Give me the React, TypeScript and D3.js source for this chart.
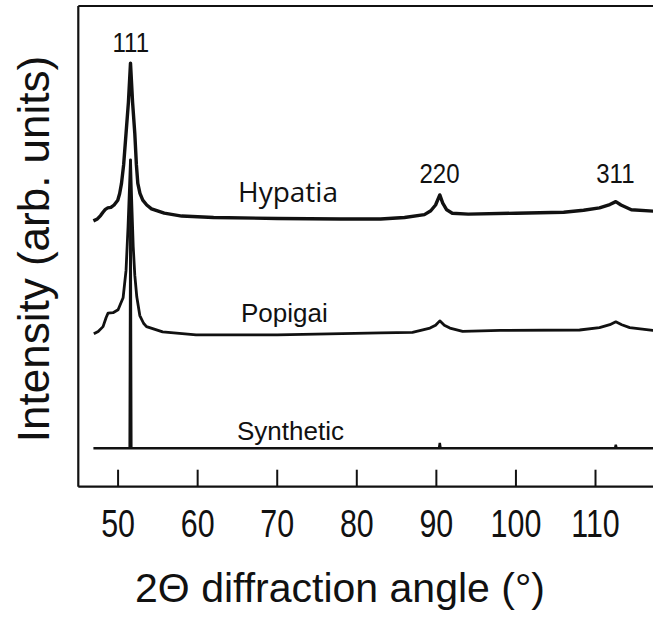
import React from "react";
import * as d3 from "d3";

// ---- data ----
const X_TICKS = [50, 60, 70, 80, 90, 100, 110];

const HYPATIA_2THETA = [46.9, 47.4, 47.8, 48.1, 48.4, 48.7, 49.1, 49.5, 49.96, 50.2, 50.43, 50.7, 51.0, 51.3, 51.56, 51.82, 52.1, 52.3, 52.48, 52.75, 53.1, 53.6, 54.2, 55.8, 58, 62, 70, 78, 83, 86, 88.5, 89.3, 89.9, 90.43, 90.8, 91.3, 92, 94, 100, 106, 108.5, 110.5, 111.8, 112.55, 113.2, 114.5, 117.5, 120];
const HYPATIA_I = [55.3, 55.7, 56.4, 57.1, 57.7, 58.0, 58.1, 58.6, 59.6, 61.0, 63.1, 67.0, 73.5, 80.0, 88.1, 80.0, 73.5, 67.0, 63.1, 61.0, 59.6, 58.6, 57.8, 56.9, 56.3, 56.0, 55.8, 55.7, 55.7, 56.0, 56.6, 57.4, 58.6, 60.7, 59.0, 57.6, 56.9, 56.7, 56.9, 57.1, 57.5, 58.0, 58.7, 59.3, 58.6, 57.6, 57.3, 57.2];

const POPIGAI_2THETA = [46.95, 47.5, 48.11, 48.5, 48.74, 49.37, 50.0, 50.63, 51.0, 51.25, 51.45, 51.56, 51.7, 51.9, 52.1, 52.35, 52.73, 53.2, 53.57, 55.6, 59.8, 70, 83, 87, 89.2, 89.9, 90.43, 91.0, 91.7, 93.3, 98, 108, 110.5, 111.8, 112.55, 113.3, 114.3, 117.2, 120];
const POPIGAI_I = [31.8, 32.3, 33.3, 35.2, 36.1, 36.2, 36.8, 39.3, 45.0, 54.0, 63.0, 68.0, 60.0, 50.0, 44.0, 39.5, 35.6, 34.0, 33.3, 32.2, 31.6, 31.6, 32.0, 32.1, 33.0, 33.6, 34.5, 33.6, 33.0, 32.3, 32.5, 32.6, 33.1, 33.7, 34.3, 33.7, 33.1, 32.5, 32.5];

const SYNTHETIC_2THETA = [46.9, 51.45, 51.56, 51.67, 90.33, 90.43, 90.53, 112.45, 112.55, 112.65, 120];
const SYNTHETIC_I = [8, 8, 68, 8, 8, 9.1, 8, 8, 8.7, 8, 8];

const PEAK_LABELS = ["111", "220", "311"];
const PEAK_POS = [51.6, 90.4, 112.5];

const SAMPLE_NAMES = ["Hypatia", "Popigai", "Synthetic"];

// ---- layout ----
const W = 653;
const H = 617;
const left = 78.3;
const top = 6;
const bottom = 486.7;
const pxPerDeg = 7.957;

export default function App() {
  const x = d3.scaleLinear().domain([45, 120]).range([left, left + 75 * pxPerDeg]);
  const y = d3.scaleLinear().domain([0, 100]).range([bottom, top]);

  const mk = (xs: number[], ys: number[]) =>
    d3
      .line<number>()
      .x((_, i) => x(xs[i]))
      .y((d) => y(d))
      .curve(d3.curveLinear)(ys) || "";

  const hyp = mk(HYPATIA_2THETA, HYPATIA_I);
  const pop = mk(POPIGAI_2THETA, POPIGAI_I);
  const syn = mk(SYNTHETIC_2THETA, SYNTHETIC_I);

  const right = x(120);
  const ink = "#111";

  return (
    <svg
      width={W}
      height={H}
      viewBox={`0 0 ${W} ${H}`}
      style={{ position: "absolute", left: 0, top: 0, background: "#fff" }}
    >
      <rect x={0} y={0} width={W} height={H} fill="#fff" />
      {/* frame */}
      <line x1={left} y1={top} x2={right} y2={top} stroke={ink} strokeWidth={2.2} />
      <line x1={left} y1={top} x2={left} y2={bottom} stroke={ink} strokeWidth={2.2} />
      <line x1={left} y1={bottom} x2={right} y2={bottom} stroke={ink} strokeWidth={2.2} />
      {/* ticks pointing inward */}
      {X_TICKS.map((t) => (
        <line key={t} x1={x(t)} x2={x(t)} y1={bottom} y2={bottom - 17} stroke={ink} strokeWidth={2} />
      ))}
      {X_TICKS.map((t) => (
        <text
          key={"l" + t}
          transform={`translate(${x(t)},537) scale(0.8,1)`}
          textAnchor="middle"
          fontFamily="Liberation Sans, Arial, sans-serif"
          fontSize={38}
          fill={ink}
        >
          {t}
        </text>
      ))}
      {/* curves */}
      <path d={syn} fill="none" stroke={ink} strokeWidth={2.4} strokeLinejoin="miter" />
      <path d={pop} fill="none" stroke={ink} strokeWidth={2.8} strokeLinejoin="round" />
      <path d={hyp} fill="none" stroke={ink} strokeWidth={3.4} strokeLinejoin="round" />

      {/* peak labels */}
      {PEAK_LABELS.map((l, i) => (
        <text
          key={l}
          transform={`translate(${x(PEAK_POS[i])},${i === 0 ? 52 : 183}) scale(0.86,1)`}
          textAnchor="middle"
          fontFamily="Liberation Sans, Arial, sans-serif"
          fontSize={28}
          fill={ink}
        >
          {l}
        </text>
      ))}

      {/* sample labels */}
      <text x={238} y={202} fontFamily="Open Sans, sans-serif" fontSize={28} fill={ink}>
        {SAMPLE_NAMES[0]}
      </text>
      <text x={241} y={322} fontFamily="Liberation Sans, Arial, sans-serif" fontSize={26} fill={ink}>
        {SAMPLE_NAMES[1]}
      </text>
      <text x={237} y={440} fontFamily="Liberation Sans, Arial, sans-serif" fontSize={26} fill={ink}>
        {SAMPLE_NAMES[2]}
      </text>

      {/* axis titles */}
      <text
        x={340}
        y={602}
        textAnchor="middle"
        fontFamily="Liberation Sans, Arial, sans-serif"
        fontSize={41}
        fill={ink}
      >
        2Θ diffraction angle (°)
      </text>
      <text
        transform={`translate(49,249) rotate(-90)`}
        textAnchor="middle"
        fontFamily="Liberation Sans, Arial, sans-serif"
        fontSize={44}
        fill={ink}
      >
        Intensity (arb. units)
      </text>
    </svg>
  );
}
